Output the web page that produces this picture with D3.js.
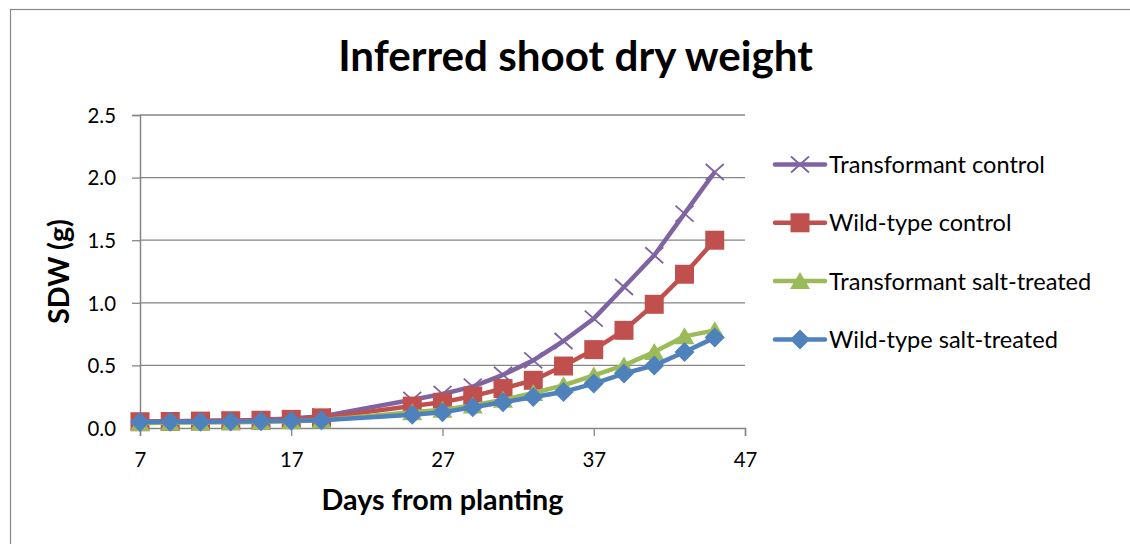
<!DOCTYPE html>
<html>
<head>
<meta charset="utf-8">
<script src="https://cdn.jsdelivr.net/npm/d3@7"></script>
<style>
  body { margin: 0; background: #fff; }
  svg text { font-family: Lato, "Open Sans", sans-serif; fill: #000; }
</style>
</head>
<body>
<div id="container"></div>
<script>
/* DATA */
const days = [7, 9, 11, 13, 15, 17, 19, 25, 27, 29, 31, 33, 35, 37, 39, 41, 43, 45];
const transformantControl = [0.052, 0.054, 0.057, 0.06, 0.065, 0.075, 0.093, 0.225, 0.272, 0.33, 0.425, 0.54, 0.695, 0.874, 1.126, 1.38, 1.712, 2.045];
const wildTypeControl = [0.05, 0.052, 0.055, 0.058, 0.062, 0.069, 0.081, 0.175, 0.205, 0.255, 0.315, 0.381, 0.495, 0.626, 0.78, 0.988, 1.228, 1.5];
const transformantSalt = [0.04, 0.042, 0.044, 0.046, 0.049, 0.054, 0.062, 0.125, 0.145, 0.18, 0.225, 0.28, 0.341, 0.42, 0.5, 0.607, 0.732, 0.78];
const wildTypeSalt = [0.048, 0.049, 0.05, 0.052, 0.054, 0.057, 0.062, 0.105, 0.125, 0.165, 0.205, 0.248, 0.288, 0.355, 0.435, 0.5, 0.607, 0.722];
const seriesNames = ["Transformant control", "Wild-type control", "Transformant salt-treated", "Wild-type salt-treated"];
const xTicks = [7, 17, 27, 37, 47];
const yTicks = [0, 0.5, 1.0, 1.5, 2.0, 2.5];

const series = [
  {name: seriesNames[0], values: transformantControl, color: "#8064A2", marker: "x"},
  {name: seriesNames[1], values: wildTypeControl, color: "#C0504D", marker: "square"},
  {name: seriesNames[2], values: transformantSalt, color: "#9BBB59", marker: "triangle"},
  {name: seriesNames[3], values: wildTypeSalt, color: "#4F81BD", marker: "diamond"}
];

/* CONSTANTS */
const W = 1130, H = 544;
const margin = {top: 115, right: 385, bottom: 116, left: 140};
const width = W - margin.left - margin.right,
      height = H - margin.top - margin.bottom;

const svg = d3.select("#container")
  .append("svg")
  .attr("width", W)
  .attr("height", H);

// scale a text's font so its width matches what the picture shows
function fitFont(sel, target) {
  const fs = parseFloat(sel.style("font-size"));
  const w = sel.node().getComputedTextLength();
  const size = fs * target / w;
  sel.style("font-size", size + "px");
  return size;
}
function measureSize(str, target, weight) {
  const t = svg.append("text").style("font-size", "20px").style("font-weight", weight).text(str);
  const size = fitFont(t, target);
  t.remove();
  return size;
}

// outer frame
svg.append("rect")
  .attr("x", 10.5).attr("y", 9.5)
  .attr("width", W + 20).attr("height", H + 20)
  .attr("fill", "#fff")
  .attr("stroke", "#888").attr("stroke-width", 1.2);

const g = svg.append("g")
  .attr("transform", `translate(${margin.left},${margin.top})`);

// SCALES
const xScale = d3.scaleLinear().domain([7, 47]).range([0, width]);
const yScale = d3.scaleLinear().domain([0, 2.5]).range([height, 0]);

// gridlines
g.append("g")
  .selectAll("line")
  .data(yTicks.filter(d => d > 0))
  .join("line")
  .attr("x1", 0).attr("x2", width)
  .attr("y1", d => yScale(d)).attr("y2", d => yScale(d))
  .attr("stroke", "#868686").attr("stroke-width", 1.3);

// AXES
const tickFont = measureSize("2.5", 28.5, "normal");

const xAxis = g.append("g")
  .attr("transform", `translate(0,${height})`)
  .call(d3.axisBottom(xScale).tickValues(xTicks).tickSize(8).tickFormat(d3.format("d")));
const yAxis = g.append("g")
  .call(d3.axisLeft(yScale).tickValues(yTicks).tickSize(8).tickFormat(d3.format(".1f")));

[xAxis, yAxis].forEach(a => {
  a.select(".domain").attr("stroke", "#868686").attr("stroke-width", 1.5);
  a.selectAll(".tick line").attr("stroke", "#868686").attr("stroke-width", 1.3);
  a.selectAll(".tick text").style("font-size", tickFont + "px").attr("fill", "#000");
});
xAxis.selectAll(".tick text").attr("y", 39).attr("dy", null);
yAxis.selectAll(".tick text").attr("x", -24).attr("dy", "0.36em");

// marker shapes
function drawMarker(sel, type, color) {
  let d;
  if (type === "x") {
    sel.append("path")
      .attr("d", "M-9,-8L9,8M-9,8L9,-8")
      .attr("stroke", color).attr("stroke-width", 1.8).attr("fill", "none");
    return;
  }
  if (type === "square") d = "M-9.5,-9.5H9.5V9.5H-9.5Z";
  if (type === "triangle") d = "M0,-9L10,8H-10Z";
  if (type === "diamond") d = "M0,-10L10,0L0,10L-10,0Z";
  sel.append("path").attr("d", d).attr("fill", color);
}

const line = d3.line()
  .x((d, i) => xScale(days[i]))
  .y(d => yScale(d));

// draw series in legend order, so blue sits on top
series.forEach(s => {
  g.append("path")
    .datum(s.values)
    .attr("fill", "none")
    .attr("stroke", s.color)
    .attr("stroke-width", 4.5)
    .attr("stroke-linejoin", "round")
    .attr("d", line);

  g.append("g")
    .selectAll("g")
    .data(s.values)
    .join("g")
    .attr("transform", (d, i) => `translate(${xScale(days[i])},${yScale(d)})`)
    .each(function() { drawMarker(d3.select(this), s.marker, s.color); });
});

// TITLES
const title = svg.append("text")
  .attr("x", 575.5).attr("y", 70.5)
  .attr("text-anchor", "middle")
  .style("font-size", "40px").style("font-weight", "bold")
  .text("Inferred shoot dry weight");
fitFont(title, 475);

const xTitle = svg.append("text")
  .attr("x", 442.5).attr("y", 510)
  .attr("text-anchor", "middle")
  .style("font-size", "24px").style("font-weight", "bold")
  .text("Days from planting");
const axisFont = fitFont(xTitle, 242);

svg.append("text")
  .attr("transform", "translate(68.5,271.5) rotate(-90)")
  .attr("text-anchor", "middle")
  .style("font-size", axisFont + "px").style("font-weight", "bold")
  .text("SDW (g)");

// LEGEND
const legendFont = measureSize(seriesNames[0], 216, "normal");
const legend = svg.append("g").attr("transform", "translate(773,164.5)");
series.forEach((s, i) => {
  const row = legend.append("g").attr("transform", `translate(0,${i * 58.3})`);
  row.append("line")
    .attr("x1", 2).attr("x2", 52)
    .attr("stroke", s.color).attr("stroke-width", 4.5).attr("stroke-linecap", "round");
  const m = row.append("g").attr("transform", "translate(27,0)");
  drawMarker(m, s.marker, s.color);
  row.append("text")
    .attr("x", 56).attr("dy", "0.36em")
    .style("font-size", legendFont + "px")
    .text(s.name);
});
</script>
</body>
</html>
